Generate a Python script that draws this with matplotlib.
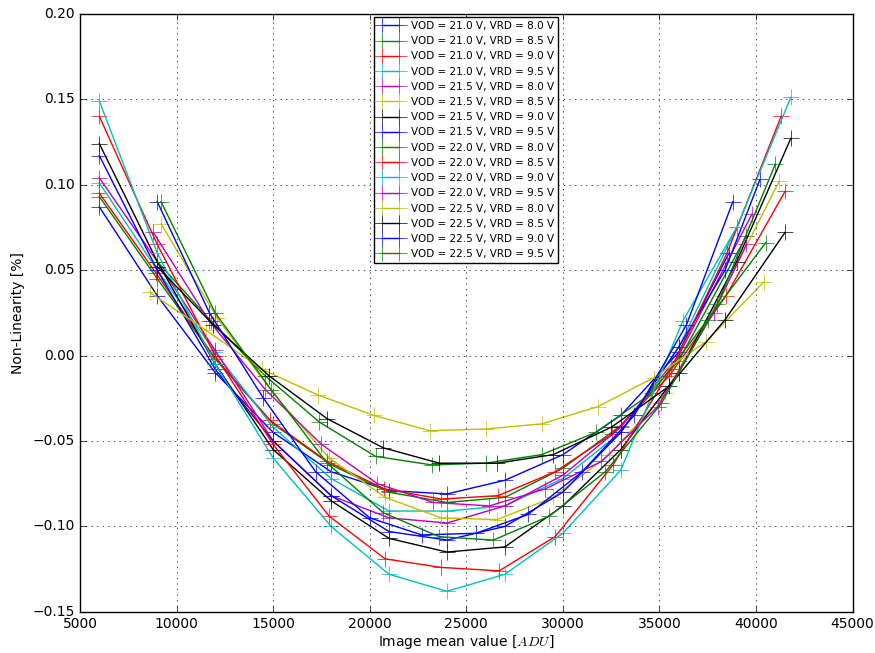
import matplotlib
matplotlib.use("Agg")
import matplotlib.pyplot as plt

plt.style.use("classic")
plt.rcParams["figure.facecolor"] = "white"
plt.rcParams["savefig.facecolor"] = "white"
plt.rcParams["mathtext.fontset"] = "cm"

# series labels (VOD, VRD)
labels = [
    "VOD = 21.0 V, VRD = 8.0 V",
    "VOD = 21.0 V, VRD = 8.5 V",
    "VOD = 21.0 V, VRD = 9.0 V",
    "VOD = 21.0 V, VRD = 9.5 V",
    "VOD = 21.5 V, VRD = 8.0 V",
    "VOD = 21.5 V, VRD = 8.5 V",
    "VOD = 21.5 V, VRD = 9.0 V",
    "VOD = 21.5 V, VRD = 9.5 V",
    "VOD = 22.0 V, VRD = 8.0 V",
    "VOD = 22.0 V, VRD = 8.5 V",
    "VOD = 22.0 V, VRD = 9.0 V",
    "VOD = 22.0 V, VRD = 9.5 V",
    "VOD = 22.5 V, VRD = 8.0 V",
    "VOD = 22.5 V, VRD = 8.5 V",
    "VOD = 22.5 V, VRD = 9.0 V",
    "VOD = 22.5 V, VRD = 9.5 V",
]

# image mean value [ADU] per series
x1 = [6000, 9000, 12000, 15000, 18000, 21000, 24000, 27000, 30000, 33000, 36000, 38600]
x2 = [6000, 9000, 12000, 15000, 18000, 21000, 24000, 27000, 30000, 33000, 36000, 39500]
x3 = [6000, 8950, 11900, 14850, 17800, 20750, 23700, 26650, 29600, 32550, 35500, 38450, 41500]
x4 = [6000, 9000, 12000, 15000, 18000, 21000, 24000, 27000, 30000, 33000, 36000, 39000]
x5 = [6000, 9000, 12000, 15000, 18000, 21000, 24000, 27000, 30000, 33000, 36000, 39800]
x6 = [9200, 12100, 15000, 17900, 20800, 23700, 26600, 29500, 32400, 35300, 38200, 41200]
x7 = [6000, 9000, 12000, 15000, 18000, 21000, 24000, 27000, 30000, 33000, 36000, 39000, 41800]
x8 = [6000, 9000, 12000, 15000, 18000, 21000, 24000, 27000, 30000, 33000, 36000, 38400, 40200]
x9 = [9000, 11800, 14600, 17400, 20300, 23200, 26000, 28900, 31700, 34600, 37500, 40500]
x10 = [6000, 9000, 12000, 15000, 17900, 20800, 23700, 26700, 29600, 32600, 35600, 38500, 41300]
x11 = [6000, 9000, 12000, 15000, 18000, 21000, 24000, 27000, 30000, 33000, 36200, 39000, 41800]
x12 = [8800, 11700, 14600, 17500, 20400, 23300, 26200, 29100, 32000, 34900, 37800, 39500]
x13 = [8600, 11500, 14400, 17300, 20200, 23100, 26000, 28900, 31800, 34700, 37400, 40400]
x14 = [9000, 11900, 14800, 17800, 20700, 23600, 26600, 29500, 32500, 35500, 38400, 41500]
x15 = [9000, 11700, 14500, 17200, 20000, 22700, 25500, 28200, 31000, 33700, 36400, 38800]
x16 = [9200, 12000, 14900, 17800, 20700, 23600, 26400, 29300, 32200, 35100, 38000, 41000]

# non-linearity [%] per series
y1 = [0.087, 0.035, -0.010, -0.045, -0.068, -0.079, -0.081, -0.073, -0.058, -0.035, 0.002, 0.060]
y2 = [0.093, 0.045, -0.002, -0.040, -0.064, -0.080, -0.086, -0.083, -0.066, -0.041, -0.003, 0.070]
y3 = [0.095, 0.048, 0.000, -0.038, -0.062, -0.078, -0.084, -0.082, -0.068, -0.046, -0.012, 0.035, 0.096]
y4 = [0.101, 0.050, 0.002, -0.042, -0.072, -0.091, -0.091, -0.088, -0.072, -0.045, 0.005, 0.075]
y5 = [0.104, 0.055, 0.003, -0.050, -0.082, -0.095, -0.098, -0.088, -0.070, -0.042, 0.000, 0.083]
y6 = [0.077, 0.022, -0.022, -0.060, -0.083, -0.095, -0.096, -0.083, -0.058, -0.022, 0.035, 0.102]
y7 = [0.124, 0.055, -0.005, -0.055, -0.085, -0.107, -0.115, -0.112, -0.088, -0.055, -0.010, 0.055, 0.127]
y8 = [0.117, 0.050, -0.008, -0.050, -0.082, -0.103, -0.108, -0.100, -0.080, -0.045, 0.005, 0.050, 0.103]
y9 = [0.055, 0.020, -0.012, -0.039, -0.059, -0.064, -0.063, -0.058, -0.045, -0.022, 0.021, 0.066]
y10 = [0.140, 0.065, 0.000, -0.052, -0.094, -0.119, -0.124, -0.126, -0.106, -0.064, -0.008, 0.060, 0.140]
y11 = [0.149, 0.060, -0.005, -0.060, -0.100, -0.128, -0.138, -0.128, -0.104, -0.067, 0.020, 0.075, 0.151]
y12 = [0.072, 0.020, -0.020, -0.052, -0.075, -0.086, -0.088, -0.078, -0.062, -0.030, 0.025, 0.065]
y13 = [0.037, 0.015, -0.008, -0.023, -0.035, -0.044, -0.043, -0.040, -0.030, -0.013, 0.008, 0.043]
y14 = [0.052, 0.018, -0.012, -0.037, -0.054, -0.063, -0.063, -0.058, -0.042, -0.018, 0.021, 0.072]
y15 = [0.090, 0.025, -0.025, -0.068, -0.095, -0.105, -0.104, -0.093, -0.068, -0.035, 0.018, 0.090]
y16 = [0.090, 0.025, -0.020, -0.063, -0.092, -0.106, -0.108, -0.094, -0.068, -0.028, 0.030, 0.112]

xs = [x1, x2, x3, x4, x5, x6, x7, x8, x9, x10, x11, x12, x13, x14, x15, x16]
ys = [y1, y2, y3, y4, y5, y6, y7, y8, y9, y10, y11, y12, y13, y14, y15, y16]

fig = plt.figure(figsize=(8.75, 6.53), dpi=100)
ax = fig.add_axes([0.0914, 0.063, 0.883, 0.916])

for x, y, lab in zip(xs, ys, labels):
    ax.plot(x, y, "+-", label=lab, markersize=11, linewidth=1.0)

ax.set_xlim(5000, 45000)
ax.set_ylim(-0.15, 0.20)
ax.set_xlabel("Image mean value [$ADU$]", fontsize=10, labelpad=1)
ax.set_ylabel("Non-Linearity [%]", fontsize=10)
ax.tick_params(labelsize=10)
ax.grid(True)
ax.legend(loc="upper center", fontsize=7.5, numpoints=2, borderaxespad=0.3,
          labelspacing=0.5, handlelength=2.3)

fig.savefig("out.png", dpi=100)
